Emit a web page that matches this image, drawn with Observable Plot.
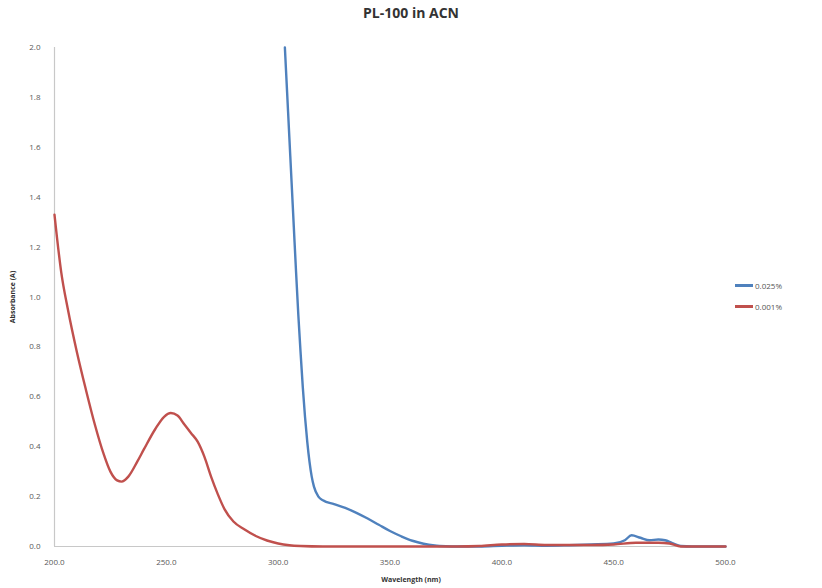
<!DOCTYPE html>
<html>
<head>
<meta charset="utf-8">
<script src="https://cdn.jsdelivr.net/npm/d3@7"></script>
<script src="https://cdn.jsdelivr.net/npm/@observablehq/plot@0.6"></script>
<style>
  body { margin: 0; background: #fff; font-family: "Open Sans", "Noto Sans", sans-serif; }
  #wrap { position: relative; width: 822px; height: 588px; overflow: hidden; }
  #title { position: absolute; left: 0; width: 822px; top: 3px; text-align: center; font-weight: bold; font-size: 14px; color: #333; }
  #legend { position: absolute; left: 735px; top: 275px; font-size: 8px; color: #555; }
  .li { display: flex; align-items: center; height: 21px; }
  .sw { width: 18px; height: 2.5px; margin-right: 2px; }
  #xlabel { position: absolute; left: 0; width: 822px; top: 575px; text-align: center; font-weight: bold; font-size: 7px; color: #333; }
</style>
</head>
<body>
<div id="wrap">
  <div id="title">PL-100 in ACN</div>
  <div id="chart"></div>
  <div id="xlabel">Wavelength (nm)</div>
  <div id="legend"></div>
</div>
<script>
const seriesNames = ["0.025%", "0.001%"];
const seriesColors = ["#4F81BD", "#C0504D"];

// 0.025% series (blue)
const blueWl = [303, 304, 305, 306, 307, 308, 309, 310, 311, 312, 313, 314, 315, 316, 318, 320, 325, 330, 335, 340, 345, 350, 355, 360, 365, 370, 375, 380, 390, 400, 410, 420, 430, 440, 450, 455, 458, 462, 466, 470, 473, 476, 480, 485, 500];
const blueAbs = [2.0, 1.82, 1.64, 1.46, 1.28, 1.1, 0.93, 0.78, 0.64, 0.52, 0.42, 0.34, 0.28, 0.24, 0.2, 0.185, 0.17, 0.155, 0.135, 0.112, 0.087, 0.062, 0.041, 0.023, 0.011, 0.004, 0.001, 0, 0, 0.003, 0.005, 0.003, 0.005, 0.008, 0.012, 0.025, 0.045, 0.035, 0.025, 0.028, 0.025, 0.015, 0.002, 0, 0];

// 0.001% series (red)
const redWl = [200, 203, 206, 210, 214, 218, 222, 225, 228, 230, 233, 237, 240, 245, 249, 252, 255, 258, 261, 264, 267, 270, 273, 276, 280, 285, 290, 295, 300, 305, 310, 320, 340, 360, 380, 390, 400, 410, 420, 440, 450, 460, 470, 475, 480, 500];
const redAbs = [1.33, 1.1, 0.95, 0.78, 0.63, 0.49, 0.37, 0.3, 0.265, 0.26, 0.28, 0.34, 0.39, 0.47, 0.52, 0.535, 0.525, 0.49, 0.455, 0.42, 0.36, 0.28, 0.21, 0.15, 0.1, 0.068, 0.042, 0.024, 0.012, 0.005, 0.002, 0, 0, 0, 0, 0.002, 0.008, 0.01, 0.006, 0.006, 0.008, 0.015, 0.015, 0.012, 0, 0];

const xTicks = [200, 250, 300, 350, 400, 450, 500];
const yTicks = [0, 0.2, 0.4, 0.6, 0.8, 1.0, 1.2, 1.4, 1.6, 1.8, 2.0];

const data = [
  ...blueWl.map((w, i) => ({ wl: w, a: blueAbs[i], s: seriesNames[0] })),
  ...redWl.map((w, i) => ({ wl: w, a: redAbs[i], s: seriesNames[1] }))
];

const chart = Plot.plot({
  width: 822,
  height: 588,
  marginTop: 47,
  marginBottom: 42,
  marginLeft: 54,
  marginRight: 97,
  style: { fontFamily: "'Open Sans', 'Noto Sans', sans-serif", fontSize: "8px", color: "#595959", background: "#fff" },
  x: { domain: [200, 500], ticks: xTicks, tickFormat: d3.format(".1f"), tickSize: 0, tickPadding: 13, label: null },
  y: { domain: [0, 2], ticks: yTicks, tickFormat: d3.format(".1f"), tickSize: 0, tickPadding: 14,
       label: "Absorbance (A)", labelAnchor: "center", labelArrow: "none", labelOffset: 44 },
  color: { domain: seriesNames, range: seriesColors },
  marks: [
    Plot.ruleX([200], { stroke: "#c8c8c8", strokeWidth: 1.2 }),
    Plot.ruleY([0], { stroke: "#c8c8c8", strokeWidth: 1.2 }),
    Plot.line(data, { x: "wl", y: "a", z: "s", stroke: "s", strokeWidth: 2.4, curve: "monotone-x" })
  ]
});
document.getElementById("chart").appendChild(chart);

// style y-axis label bold
chart.querySelectorAll("[aria-label='y-axis label'] text").forEach(t => {
  t.setAttribute("font-weight", "bold");
  t.setAttribute("font-size", "7px");
  t.setAttribute("fill", "#333");
});

const leg = document.getElementById("legend");
seriesNames.forEach((n, i) => {
  const row = document.createElement("div");
  row.className = "li";
  row.innerHTML = `<span class="sw" style="background:${seriesColors[i]}"></span><span>${n}</span>`;
  leg.appendChild(row);
});
</script>
</body>
</html>
